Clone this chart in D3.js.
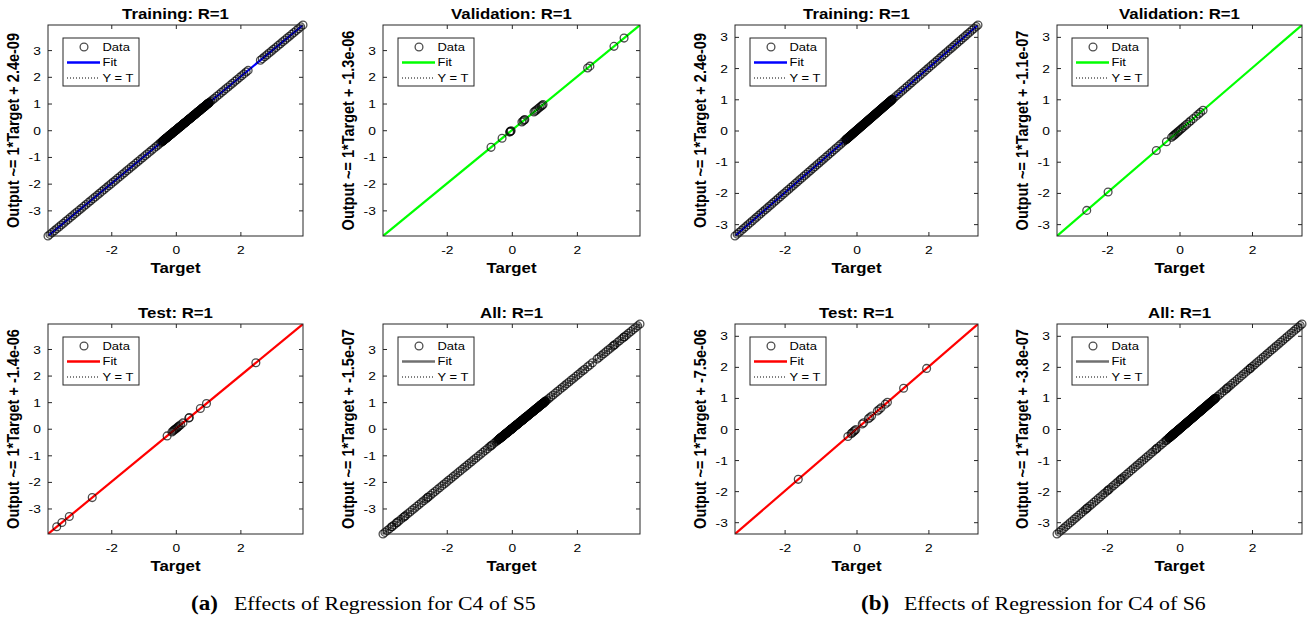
<!DOCTYPE html>
<html><head><meta charset="utf-8">
<script src="https://cdn.jsdelivr.net/npm/d3@7"></script>
<style>
body{margin:0;background:#fff}
svg{display:block}
text{font-family:"Liberation Sans",Arial,Helvetica,sans-serif;fill:#000}
</style>
</head><body>
<svg id="chart" width="1309" height="622"></svg>
<script>
// ---------------- data ----------------
const panelNames = ["Training", "Validation", "Test", "All"];
const rValues = ["1", "1", "1", "1"];
const interceptsA = [2.4e-9, -1.3e-6, -1.4e-6, -1.5e-7];
const interceptsB = [2.4e-9, -1.1e-7, -7.5e-6, -3.8e-7];
const interceptLabelsA = ["2.4e-09", "-1.3e-06", "-1.4e-06", "-1.5e-07"];
const interceptLabelsB = ["2.4e-09", "-1.1e-07", "-7.5e-06", "-3.8e-07"];
const xTickValues = [-2, 0, 2];
const yTickValues = [-3, -2, -1, 0, 1, 2, 3];
const legendLabels = ["Data", "Fit", "Y = T"];
const captionTags = ["(a)", "(b)"];
const captionTexts = ["Effects of Regression for C4 of S5", "Effects of Regression for C4 of S6"];

// targets (outputs equal targets, R=1)
const trainA = [-3.96,-3.90,-3.83,-3.76,-3.69,-3.62,-3.55,-3.48,-3.41,-3.34,-3.27,-3.20,-3.13,-3.06,-2.99,-2.92,-2.85,-2.78,-2.71,-2.64,-2.57,-2.50,-2.43,-2.36,-2.29,-2.22,-2.15,-2.08,-2.01,-1.94,-1.87,-1.80,-1.73,-1.66,-1.59,-1.52,-1.45,-1.38,-1.31,-1.24,-1.17,-1.10,-1.03,-0.96,-0.89,-0.82,-0.75,-0.68,-0.61,-0.55,-0.49,-0.45,
 -0.42,-0.41,-0.40,-0.39,-0.38,-0.37,-0.36,-0.35,-0.34,-0.33,-0.32,-0.31,-0.30,-0.29,-0.28,-0.27,-0.26,-0.25,-0.24,-0.23,-0.22,-0.21,-0.20,-0.19,-0.18,-0.17,-0.16,-0.15,-0.14,-0.13,-0.12,-0.11,-0.10,-0.09,-0.08,-0.07,-0.06,-0.05,-0.04,-0.03,-0.02,-0.01,
 0.00,0.01,0.02,0.03,0.04,0.05,0.06,0.07,0.08,0.09,0.10,0.11,0.12,0.13,0.14,0.15,0.16,0.17,0.18,0.19,0.20,0.21,0.22,0.23,0.24,0.25,0.26,0.27,0.28,0.29,0.30,0.31,0.32,0.33,0.34,0.35,0.36,0.37,0.38,0.39,0.40,0.41,0.42,0.43,0.44,0.45,0.46,0.47,0.48,0.49,
 0.50,0.51,0.52,0.53,0.54,0.55,0.56,0.57,0.58,0.59,0.60,0.61,0.62,0.63,0.64,0.65,0.66,0.67,0.68,0.69,0.70,0.71,0.72,0.73,0.74,0.75,0.76,0.77,0.78,0.79,0.80,0.81,0.82,0.83,0.84,0.85,0.86,0.87,0.88,0.89,0.90,0.91,0.92,0.93,0.94,0.95,0.96,0.97,0.98,0.99,1.00,1.01,1.02,1.03,1.04,
 1.08,1.14,1.20,1.27,1.34,1.41,1.48,1.55,1.62,1.69,1.76,1.83,1.90,1.97,2.04,2.11,2.18,2.24,
 2.62,2.68,2.75,2.82,2.89,2.96,3.03,3.10,3.17,3.24,3.31,3.38,3.45,3.52,3.59,3.66,3.73,3.80,3.87,3.94];
const valA = [-0.64,-0.30,-0.07,-0.05,-0.04,-0.02,0.31,0.35,0.38,0.40,0.68,0.72,0.76,0.80,0.85,0.90,0.93,0.96,2.33,2.40,3.14,3.45];
const testA = [-3.69,-3.53,-3.30,-2.59,-0.27,-0.12,-0.08,-0.05,-0.02,0.01,0.04,0.07,0.10,0.15,0.22,0.40,0.42,0.76,0.95,2.48];

const trainB = [-3.38,-3.32,-3.26,-3.20,-3.14,-3.08,-3.02,-2.96,-2.90,-2.84,-2.78,-2.72,-2.66,-2.60,-2.54,-2.48,-2.42,-2.36,-2.30,-2.24,-2.18,-2.12,-2.06,-2.00,-1.94,-1.88,-1.82,-1.76,-1.70,-1.64,-1.58,-1.52,-1.46,-1.40,-1.34,-1.28,-1.22,-1.16,-1.10,-1.04,-0.98,-0.92,-0.86,-0.80,-0.74,-0.68,-0.62,-0.56,-0.50,-0.44,-0.38,-0.33,
 -0.30,-0.29,-0.28,-0.27,-0.26,-0.25,-0.24,-0.23,-0.22,-0.21,-0.20,-0.19,-0.18,-0.17,-0.16,-0.15,-0.14,-0.13,-0.12,-0.11,-0.10,-0.09,-0.08,-0.07,-0.06,-0.05,-0.04,-0.03,-0.02,-0.01,
 0.00,0.01,0.02,0.03,0.04,0.05,0.06,0.07,0.08,0.09,0.10,0.11,0.12,0.13,0.14,0.15,0.16,0.17,0.18,0.19,0.20,0.21,0.22,0.23,0.24,0.25,0.26,0.27,0.28,0.29,0.30,0.31,0.32,0.33,0.34,0.35,0.36,0.37,0.38,0.39,0.40,0.41,0.42,0.43,0.44,0.45,0.46,0.47,0.48,0.49,
 0.50,0.51,0.52,0.53,0.54,0.55,0.56,0.57,0.58,0.59,0.60,0.61,0.62,0.63,0.64,0.65,0.66,0.67,0.68,0.69,0.70,0.71,0.72,0.73,0.74,0.75,0.76,0.77,0.78,0.79,0.80,0.81,0.82,0.83,0.84,0.85,0.86,0.87,0.88,0.89,0.90,0.91,0.92,0.93,0.94,0.95,0.96,0.97,0.98,0.99,1.00,
 1.05,1.11,1.17,1.23,1.29,1.35,1.41,1.47,1.53,1.59,1.65,1.71,1.77,1.83,1.89,1.95,2.01,2.07,2.13,2.19,2.25,2.31,2.37,2.43,2.49,2.55,2.61,2.67,2.73,2.79,2.85,2.91,2.97,3.03,3.09,3.15,3.21,3.27,3.33,3.38];
const valB = [-2.56,-1.97,-0.64,-0.36,-0.22,-0.18,-0.15,-0.12,-0.09,-0.05,-0.02,0.02,0.06,0.10,0.15,0.20,0.26,0.31,0.38,0.46,0.53,0.58,0.65];
const testB = [-1.62,-0.24,-0.15,-0.12,-0.08,-0.05,-0.02,0.16,0.20,0.33,0.37,0.42,0.58,0.63,0.68,0.80,0.86,1.31,1.95];

// ---------------- layout & style ----------------
const groups = [
  {sets: [trainA, valA, testA, trainA.concat(valA, testA)], b: interceptsA, bl: interceptLabelsA},
  {sets: [trainB, valB, testB, trainB.concat(valB, testB)], b: interceptsB, bl: interceptLabelsB}
];
const cols = [[48, 303], [383, 640], [735, 978], [1057, 1302]];
const rows = [[25, 236], [324, 534]];
const fitColors = ["#0000ff", "#00ff00", "#ff0000", "#707070"];
const SX = 1.2; // horizontal stretch of the original figure
const fmt = d => String(d);

const svg = d3.select("#chart");

function marker(sel) {
  sel.attr("r", 3.9).attr("fill", "none").attr("stroke", "#000")
    .attr("stroke-opacity", 0.7).attr("stroke-width", 1.3);
}

groups.forEach((grp, gi) => {
  const all = grp.sets[3];
  const ext = d3.extent(all);
  grp.sets.forEach((data, pi) => {
    const [L, R] = cols[gi * 2 + (pi % 2)];
    const [T, B] = rows[Math.floor(pi / 2)];
    const x = d3.scaleLinear().domain(ext).range([L, R]);
    const y = d3.scaleLinear().domain(ext).range([B, T]);
    const g = svg.append("g");
    const cid = `clip${gi}${pi}`;
    g.append("clipPath").attr("id", cid).append("rect")
      .attr("x", L).attr("y", T).attr("width", R - L).attr("height", B - T);
    g.append("rect").attr("x", L).attr("y", T).attr("width", R - L).attr("height", B - T).attr("fill", "#fff");

    const inner = g.append("g").attr("clip-path", `url(#${cid})`);
    // Y = T
    inner.append("line")
      .attr("x1", x(ext[0])).attr("y1", y(ext[0])).attr("x2", x(ext[1])).attr("y2", y(ext[1]))
      .attr("stroke", "#000").attr("stroke-width", 1).attr("stroke-dasharray", "1,2");
    // fit
    const b = grp.b[pi];
    inner.append("line")
      .attr("x1", x(ext[0])).attr("y1", y(ext[0] + b)).attr("x2", x(ext[1])).attr("y2", y(ext[1] + b))
      .attr("stroke", fitColors[pi]).attr("stroke-width", 2.2);
    // data
    g.append("g").selectAll("circle").data(data).join("circle")
      .attr("cx", d => x(d)).attr("cy", d => y(d)).call(marker);

    // axes (inward ticks on all four sides)
    const axB = g.append("g").attr("transform", `translate(0,${B})`)
      .call(d3.axisBottom(x).tickValues(xTickValues).tickSize(-4).tickPadding(10).tickFormat(fmt));
    const axT = g.append("g").attr("transform", `translate(0,${T})`)
      .call(d3.axisTop(x).tickValues(xTickValues).tickSize(-4).tickFormat(""));
    const axL = g.append("g").attr("transform", `translate(${L},0)`)
      .call(d3.axisLeft(y).tickValues(yTickValues).tickSize(-4).tickPadding(6).tickFormat(fmt));
    const axR = g.append("g").attr("transform", `translate(${R},0)`)
      .call(d3.axisRight(y).tickValues(yTickValues).tickSize(-4).tickFormat(""));
    [axB, axT, axL, axR].forEach(a => {
      a.select(".domain").remove();
      a.selectAll("line").attr("stroke", "#262626");
      a.selectAll("text").attr("font-size", 11.5).attr("font-family", "Liberation Sans, Arial, sans-serif")
        .attr("fill", "#000").attr("transform", `scale(${SX},1)`);
    });
    axL.selectAll("text").attr("dy", "0.35em");

    g.append("rect").attr("x", L).attr("y", T).attr("width", R - L).attr("height", B - T)
      .attr("fill", "none").attr("stroke", "#262626").attr("stroke-width", 1);

    // title
    g.append("text").attr("transform", `translate(${(L + R) / 2},${T - 6}) scale(${SX},1)`)
      .attr("text-anchor", "middle").attr("font-weight", "bold").attr("font-size", 14)
      .text(`${panelNames[pi]}: R=${rValues[pi]}`);
    // x label
    g.append("text").attr("transform", `translate(${(L + R) / 2},${B + 37}) scale(${SX},1)`)
      .attr("text-anchor", "middle").attr("font-weight", "bold").attr("font-size", 14)
      .text("Target");
    // y label
    g.append("text").attr("transform", `translate(${L - 29},${(T + B) / 2}) scale(${SX},1) rotate(-90)`)
      .attr("text-anchor", "middle").attr("font-weight", "bold").attr("font-size", 14.5)
      .text(`Output ~= 1*Target + ${grp.bl[pi]}`);

    // legend
    const lx = L + 15, ly = T + 13;
    const lg = g.append("g");
    lg.append("rect").attr("x", lx).attr("y", ly).attr("width", 76).attr("height", 48)
      .attr("fill", "#fff").attr("stroke", "#262626").attr("stroke-width", 1);
    const rowY = [ly + 9, ly + 24.5, ly + 40];
    lg.append("circle").attr("cx", lx + 21).attr("cy", rowY[0]).call(marker);
    lg.append("line").attr("x1", lx + 4).attr("x2", lx + 37).attr("y1", rowY[1]).attr("y2", rowY[1])
      .attr("stroke", fitColors[pi]).attr("stroke-width", 2.4);
    lg.append("line").attr("x1", lx + 4).attr("x2", lx + 37).attr("y1", rowY[2]).attr("y2", rowY[2])
      .attr("stroke", "#000").attr("stroke-width", 1).attr("stroke-dasharray", "1,2");
    legendLabels.forEach((t, i) => {
      lg.append("text").attr("transform", `translate(${lx + 39.5},${rowY[i]}) scale(${SX},1)`)
        .attr("dy", "0.35em").attr("font-size", 10.8).text(t);
    });
  });
});

// captions
const capX = [191, 861];
captionTags.forEach((tag, i) => {
  svg.append("text").attr("transform", `translate(${capX[i]},610) scale(1.1,1)`)
    .style("font-family", "'Liberation Serif','Times New Roman',serif")
    .attr("font-weight", "bold").attr("font-size", 21).text(tag);
  svg.append("text").attr("transform", `translate(${capX[i] + 43},610) scale(1.15,1)`)
    .style("font-family", "'Liberation Serif','Times New Roman',serif")
    .attr("font-size", 19).text(captionTexts[i]);
});
</script>
</body></html>
